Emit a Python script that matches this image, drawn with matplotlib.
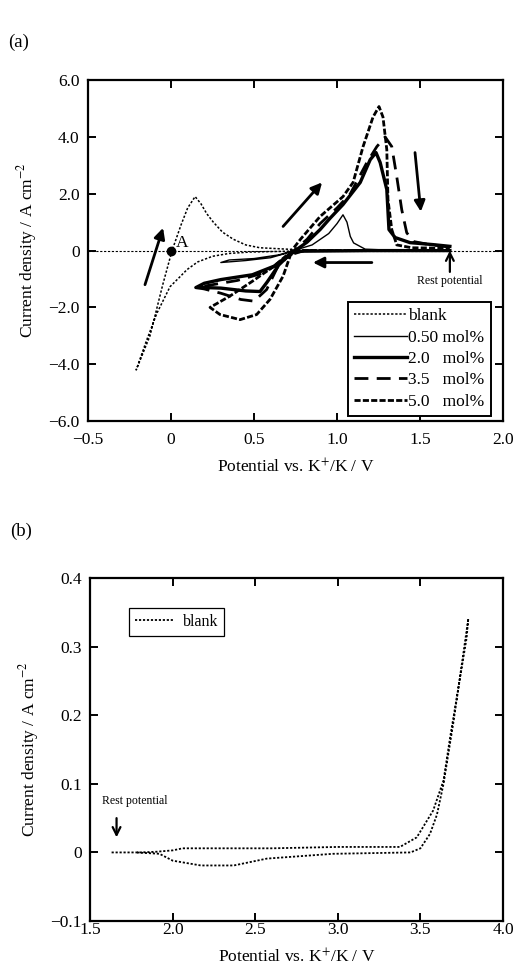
#!/usr/bin/env python3
"""
Cyclic voltammograms: (a) blank and additive concentrations, (b) blank anodic region.
"""

import matplotlib
matplotlib.use("Agg")
import matplotlib.pyplot as plt

plt.rcParams["font.family"] = ["Liberation Serif", "DejaVu Serif"]
plt.rcParams["mathtext.fontset"] = "stix"

# ---- panel (a) data: potential (V vs K+/K), current density (A cm-2) ----
blank_a_E = [1.68, 1.2, 0.8, 0.476, 0.35, 0.25, 0.16, 0.096, 0.054, -0.006, -0.085, -0.15, -0.21,
             -0.127, -0.05, 0.006, 0.06, 0.1, 0.145, 0.18, 0.215, 0.255, 0.31, 0.375, 0.45, 0.535, 0.8, 1.68]
blank_a_I = [0.0, 0.0, -0.01, -0.05, -0.1, -0.2, -0.4, -0.67, -0.92, -1.27, -2.2, -3.2, -4.2,
             -3.0, -1.2, 0.0, 0.9, 1.5, 1.9, 1.65, 1.3, 1.0, 0.65, 0.4, 0.2, 0.1, 0.02, 0.0]

c050_E = [1.68, 1.2, 0.8, 0.72, 0.6, 0.45, 0.3,
          0.35, 0.5, 0.65, 0.75, 0.85, 0.95, 1.0, 1.036, 1.06, 1.08, 1.10, 1.17, 1.3, 1.68]
c050_I = [0.0, 0.0, 0.0, -0.05, -0.25, -0.35, -0.42,
          -0.33, -0.28, -0.15, 0.02, 0.2, 0.6, 0.95, 1.26, 1.0, 0.5, 0.27, 0.05, 0.02, 0.02]

c20_E = [1.68, 1.2, 0.8, 0.73, 0.65, 0.58, 0.536, 0.45, 0.3, 0.2, 0.15,
         0.2, 0.3, 0.49, 0.62, 0.7, 0.76, 0.82, 0.898, 0.96, 1.036, 1.14, 1.2, 1.235,
         1.26, 1.30, 1.313, 1.35, 1.44, 1.58, 1.68]
c20_I = [0.0, 0.0, -0.02, -0.05, -0.5, -1.1, -1.44, -1.42, -1.32, -1.3, -1.3,
         -1.15, -1.02, -0.85, -0.55, -0.2, 0.05, 0.3, 0.74, 1.15, 1.62, 2.4, 3.2, 3.45,
         3.1, 2.15, 0.74, 0.46, 0.28, 0.21, 0.15]

c35_E = [1.68, 0.8, 0.72, 0.64, 0.576, 0.5, 0.42, 0.3, 0.2, 0.15,
         0.25, 0.4, 0.55, 0.68, 0.75, 0.82, 0.898, 1.0, 1.08, 1.18, 1.24, 1.29,
         1.33, 1.36, 1.39, 1.42, 1.46, 1.55, 1.68]
c35_I = [0.0, 0.0, -0.1, -0.6, -1.37, -1.78, -1.72, -1.5, -1.35, -1.3,
         -1.2, -1.05, -0.8, -0.35, 0.05, 0.4, 0.95, 1.5, 2.0, 3.1, 3.66, 4.0,
         3.66, 2.6, 1.44, 0.63, 0.32, 0.22, 0.12]

c50_E = [1.68, 0.8, 0.72, 0.675, 0.596, 0.516, 0.416, 0.295, 0.235,
         0.355, 0.49, 0.62, 0.72, 0.78, 0.898, 1.036, 1.097, 1.157, 1.217, 1.253,
         1.277, 1.30, 1.307, 1.33, 1.36, 1.45, 1.68]
c50_I = [0.0, 0.0, -0.15, -0.9, -1.72, -2.25, -2.43, -2.25, -2.0,
         -1.6, -1.08, -0.55, -0.05, 0.4, 1.2, 1.9, 2.4, 3.66, 4.7, 5.07,
         4.7, 3.55, 1.8, 0.74, 0.2, 0.1, 0.08]

# ---- panel (b) data ----
blank_b_E = [1.63, 1.8, 1.9, 2.0, 2.06, 2.17, 2.6, 3.0, 3.376, 3.478, 3.577, 3.64, 3.68, 3.73, 3.78, 3.79,
             3.76, 3.70, 3.64, 3.60, 3.558, 3.50, 3.44, 2.97, 2.57, 2.37, 2.17, 2.0, 1.92, 1.78]
blank_b_I = [0.0, 0.0, 0.001, 0.003, 0.006, 0.006, 0.006, 0.008, 0.008, 0.022, 0.061, 0.105, 0.168, 0.24, 0.313, 0.341,
             0.29, 0.19, 0.1, 0.055, 0.027, 0.006, 0.0, -0.002, -0.009, -0.019, -0.019, -0.012, -0.002, 0.0]

LEGEND_A = ["blank", "0.50 mol%", "2.0   mol%", "3.5   mol%", "5.0   mol%"]
XT_A = [-0.5, 0, 0.5, 1.0, 1.5, 2.0]
XT_A_LBL = ["\u22120.5", "0", "0.5", "1.0", "1.5", "2.0"]
YT_A = [-6, -4, -2, 0, 2, 4, 6]
YT_A_LBL = ["\u22126.0", "\u22124.0", "\u22122.0", "0", "2.0", "4.0", "6.0"]
XT_B = [1.5, 2.0, 2.5, 3.0, 3.5, 4.0]
XT_B_LBL = ["1.5", "2.0", "2.5", "3.0", "3.5", "4.0"]
YT_B = [-0.1, 0, 0.1, 0.2, 0.3, 0.4]
YT_B_LBL = ["\u22120.1", "0", "0.1", "0.2", "0.3", "0.4"]

FS = 12.5
XLABEL = "Potential vs. K$^{+}$/K / V"
YLABEL = "Current density / A cm$^{-2}$"


def style_axes(ax, xpad):
    for s in ax.spines.values():
        s.set_linewidth(1.6)
    ax.tick_params(direction="in", length=6, width=1.4, top=True, right=True,
                   labelsize=FS)
    ax.tick_params(axis="y", pad=6)
    ax.tick_params(axis="x", pad=xpad)


fig = plt.figure(figsize=(5.18, 9.77), dpi=100)

# ---------------- panel (a) ----------------
ax = fig.add_axes([0.170, 0.569, 0.801, 0.349])
ax.axhline(0, color="k", lw=0.8, ls=(0, (2, 1.5)), zorder=1)
ax.plot(blank_a_E, blank_a_I, color="k", lw=1.1, ls=(0, (1.5, 1.2)), label=LEGEND_A[0])
ax.plot(c050_E, c050_I, color="k", lw=1.0, ls="-", label=LEGEND_A[1])
ax.plot(c20_E, c20_I, color="k", lw=2.4, ls="-", label=LEGEND_A[2])
ax.plot(c35_E, c35_I, color="k", lw=2.0, ls=(0, (5, 3)), label=LEGEND_A[3])
ax.plot(c50_E, c50_I, color="k", lw=2.0, ls=(0, (2.2, 0.8)), label=LEGEND_A[4])

ax.plot([0], [0], "o", color="k", ms=6)
ax.text(0.03, 0.12, "A", fontsize=FS)

arrow = dict(arrowstyle="-|>", color="k", lw=2.0, mutation_scale=16, shrinkA=0, shrinkB=0)
ax.annotate("", xy=(-0.048, 0.8), xytext=(-0.157, -1.2), arrowprops=arrow)
ax.annotate("", xy=(0.91, 2.4), xytext=(0.675, 0.85), arrowprops=arrow)
ax.annotate("", xy=(1.505, 1.37), xytext=(1.47, 3.45), arrowprops=arrow)
ax.annotate("", xy=(0.855, -0.42), xytext=(1.21, -0.42), arrowprops=arrow)
ax.annotate("", xy=(1.68, 0.0), xytext=(1.68, -0.75),
            arrowprops=dict(arrowstyle="->", color="k", lw=1.6, mutation_scale=14,
                            shrinkA=0, shrinkB=0))
ax.text(1.68, -0.85, "Rest potential", fontsize=8.5, ha="center", va="top")

ax.set_xlim(-0.5, 2.0)
ax.set_ylim(-6, 6)
ax.set_xticks(XT_A)
ax.set_xticklabels(XT_A_LBL)
ax.set_yticks(YT_A)
ax.set_yticklabels(YT_A_LBL)
ax.set_xlabel(XLABEL, fontsize=FS, labelpad=7)
ax.set_ylabel(YLABEL, fontsize=FS, labelpad=7)
style_axes(ax, 8)
leg = ax.legend(loc="lower right", fontsize=FS, frameon=True, fancybox=False,
                edgecolor="k", framealpha=1, handlelength=3.0, handletextpad=0.1,
                labelspacing=0.3, borderpad=0.35, borderaxespad=0.3,
                bbox_to_anchor=(0.983, 0.0))
leg.get_frame().set_linewidth(1.4)

# ---------------- panel (b) ----------------
bx = fig.add_axes([0.174, 0.0573, 0.797, 0.351])
bx.plot(blank_b_E, blank_b_I, color="k", lw=1.3, ls=(0, (1.2, 1.0)), label="blank")
bx.annotate("", xy=(1.66, 0.022), xytext=(1.66, 0.05),
            arrowprops=dict(arrowstyle="->", color="k", lw=1.6, mutation_scale=14,
                            shrinkA=0, shrinkB=0))
bx.text(1.573, 0.066, "Rest potential", fontsize=8.5, ha="left", va="bottom")

bx.set_xlim(1.5, 4.0)
bx.set_ylim(-0.1, 0.4)
bx.set_xticks(XT_B)
bx.set_xticklabels(XT_B_LBL)
bx.set_yticks(YT_B)
bx.set_yticklabels(YT_B_LBL)
bx.set_xlabel(XLABEL, fontsize=FS, labelpad=7)
bx.set_ylabel(YLABEL, fontsize=FS, labelpad=7)
style_axes(bx, 1)
leg2 = bx.legend(loc="upper left", fontsize=FS - 1, frameon=True, fancybox=False,
                 edgecolor="k", framealpha=1, handlelength=2.4, handletextpad=0.6,
                 borderpad=0.35, bbox_to_anchor=(0.075, 0.935))
leg2.get_frame().set_linewidth(0.9)

fig.text(0.015, 0.952, "(a)", fontsize=FS + 1)
fig.text(0.02, 0.451, "(b)", fontsize=FS + 1)

plt.savefig("out.png", dpi=100)
plt.close()
